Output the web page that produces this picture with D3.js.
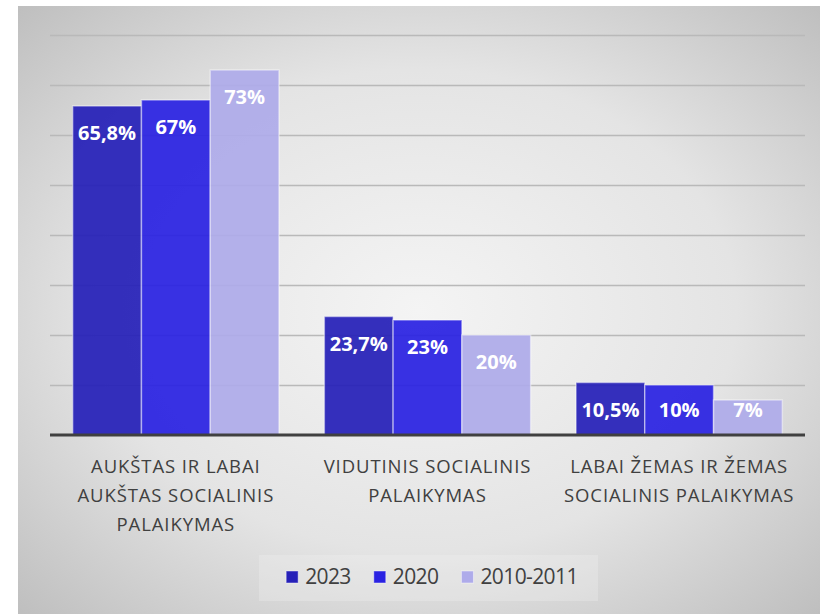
<!DOCTYPE html>
<meta charset="utf-8">
<style>
  body { margin: 0; background: #fff; }
  .cat text { font-family: "Open Sans", sans-serif; font-size: 18.5px; letter-spacing: 0.9px; fill: #404040; }
  .lbl { font-family: "Open Sans", sans-serif; font-size: 20px; font-weight: bold; fill: #fff; }
  .legend text { font-family: "Open Sans", sans-serif; font-size: 21px; letter-spacing: -0.6px; fill: #404040; }
</style>
<body>
<div id="chart"></div>
<script src="https://d3js.org/d3.v7.min.js"></script>
<script>
  // data
  var categories = [
    ["AUKŠTAS IR LABAI", "AUKŠTAS SOCIALINIS", "PALAIKYMAS"],
    ["VIDUTINIS SOCIALINIS", "PALAIKYMAS"],
    ["LABAI ŽEMAS IR ŽEMAS", "SOCIALINIS PALAIKYMAS"]
  ];
  var seriesNames = ["2023", "2020", "2010-2011"];
  var values2023 = [65.8, 23.7, 10.5];
  var values2020 = [67, 23, 10];
  var values2010 = [73, 20, 7];
  var labels2023 = ["65,8%", "23,7%", "10,5%"];
  var labels2020 = ["67%", "23%", "10%"];
  var labels2010 = ["73%", "20%", "7%"];
  var gridTicks = [10, 20, 30, 40, 50, 60, 70, 80];

  var colors = ["#2620b8", "#2a22e2", "#aeabea"];

  var width = 820, height = 614;
  var margin = {top: 35, right: 15, bottom: 179, left: 50};

  var svg = d3.select("#chart").append("svg")
      .attr("width", width)
      .attr("height", height);

  var defs = svg.append("defs");
  var grad = defs.append("radialGradient")
      .attr("id", "bg")
      .attr("cx", "50%").attr("cy", "50%").attr("r", "72%");
  grad.append("stop").attr("offset", "0%").attr("stop-color", "#f4f4f4");
  grad.append("stop").attr("offset", "55%").attr("stop-color", "#e4e4e4");
  grad.append("stop").attr("offset", "100%").attr("stop-color", "#bdbdbd");

  svg.append("rect")
      .attr("x", 18).attr("y", 6)
      .attr("width", width - 18).attr("height", height - 6)
      .attr("fill", "url(#bg)");

  var keys = categories.map(function(d, i) { return i; });

  var x0 = d3.scaleBand()
      .domain(keys)
      .range([margin.left, width - margin.right]);

  var x1 = d3.scaleBand()
      .domain(seriesNames)
      .range([0, x0.bandwidth()])
      .paddingOuter(0.33);

  var y = d3.scaleLinear()
      .domain([0, 80])
      .range([height - margin.bottom, margin.top]);

  // gridlines
  svg.append("g")
      .attr("class", "grid")
      .attr("transform", "translate(" + margin.left + ",0)")
      .call(d3.axisLeft(y).tickValues(gridTicks).tickSize(-(width - margin.right - margin.left)).tickFormat(""))
      .call(function(g) {
        g.select(".domain").remove();
        g.selectAll("line").attr("stroke", "#b9b9b9").attr("stroke-width", 1.5);
      });

  var table = keys.map(function(i) {
    return [
      {s: seriesNames[0], v: values2023[i], t: labels2023[i], c: colors[0]},
      {s: seriesNames[1], v: values2020[i], t: labels2020[i], c: colors[1]},
      {s: seriesNames[2], v: values2010[i], t: labels2010[i], c: colors[2]}
    ];
  });

  var groups = svg.selectAll(".grp")
      .data(table)
      .enter().append("g")
      .attr("class", "grp")
      .attr("transform", function(d, i) { return "translate(" + x0(i) + ",0)"; });

  groups.selectAll("rect")
      .data(function(d) { return d; })
      .enter().append("rect")
      .attr("x", function(d) { return x1(d.s); })
      .attr("y", function(d) { return y(d.v); })
      .attr("width", x1.bandwidth())
      .attr("height", function(d) { return y(0) - y(d.v); })
      .attr("fill", function(d) { return d.c; })
      .attr("fill-opacity", 0.93)
      .attr("stroke", "rgba(255,255,255,0.45)")
      .attr("stroke-width", 1.5);

  groups.selectAll(".lbl")
      .data(function(d) { return d; })
      .enter().append("text")
      .attr("class", "lbl")
      .attr("x", function(d) { return x1(d.s) + x1.bandwidth() / 2; })
      .attr("y", function(d) { return Math.min(y(d.v) + 27, y(0) - 25); })
      .attr("dy", "0.35em")
      .attr("text-anchor", "middle")
      .text(function(d) { return d.t; });

  // baseline
  svg.append("line")
      .attr("x1", margin.left).attr("x2", width - margin.right)
      .attr("y1", y(0)).attr("y2", y(0))
      .attr("stroke", "#404040")
      .attr("stroke-width", 3);

  // category labels
  var cat = svg.append("g").attr("class", "cat");
  cat.selectAll("text")
      .data(categories)
      .enter().append("text")
      .attr("text-anchor", "middle")
      .attr("x", function(d, i) { return x0(i) + x0.bandwidth() / 2; })
      .attr("y", y(0) + 32)
      .each(function(lines) {
        var t = d3.select(this);
        lines.forEach(function(l, j) {
          t.append("tspan")
            .attr("x", t.attr("x"))
            .attr("dy", j === 0 ? "0.35em" : 29)
            .text(l);
        });
      });

  // legend
  var legend = svg.append("g").attr("class", "legend");
  legend.append("rect")
      .attr("x", 259).attr("y", 555)
      .attr("width", 339).attr("height", 46)
      .attr("fill", "#f3f3f3").attr("fill-opacity", 0.3);

  var lx = 0, legendY = 577;
  var items = legend.selectAll(".item")
      .data(seriesNames)
      .enter().append("g")
      .attr("class", "item");
  items.append("rect")
      .attr("y", legendY - 6)
      .attr("width", 12).attr("height", 12)
      .attr("fill", function(d, i) { return colors[i]; })
      .attr("stroke", "rgba(255,255,255,0.45)");
  items.append("text")
      .attr("x", 19)
      .attr("y", legendY)
      .attr("dy", "0.35em")
      .text(function(d) { return d; });
  var offsets = [];
  items.each(function() {
    offsets.push(lx);
    lx += 19 + d3.select(this).select("text").node().getComputedTextLength() + 23;
  });
  var total = lx - 23;
  var startX = 432 - total / 2;
  items.attr("transform", function(d, i) { return "translate(" + (startX + offsets[i]) + ",0)"; });
</script>
</body>
